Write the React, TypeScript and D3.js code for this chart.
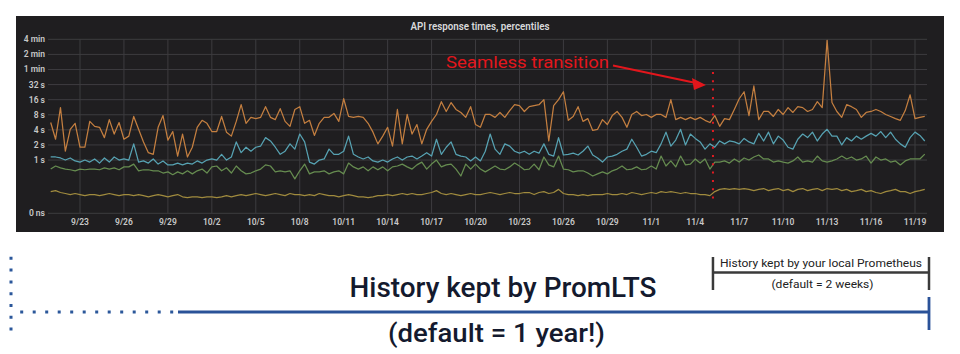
import * as d3 from "d3";

// samples every 8 hours, starting 9/21 00:00 (values in seconds)
const START = Date.UTC(2017, 8, 21);
const STEP_MS = 8 * 3600 * 1000;

const p99 = [
  5.6, 2.6, 11.1, 1.5, 4.1, 5.4, 1.8, 1.8, 5.9, 4.7,
  4.5, 2.8, 6.4, 3.3, 5.6, 2.6, 3.0, 7.4, 4.1, 2.3,
  1.4, 1.3, 4.5, 7.7, 2.5, 3.7, 1.2, 3.3, 1.15, 1.8,
  4.5, 6.2, 5.4, 3.7, 3.7, 7.4, 3.6, 3.0, 5.9, 12.7,
  5.4, 7.1, 6.7, 7.1, 11.6, 7.1, 6.4, 10.6, 5.9, 4.7,
  10.2, 11.6, 5.4, 6.2, 3.1, 5.4, 7.1, 7.1, 8.5, 5.9,
  16.7, 7.4, 7.1, 7.4, 7.1, 5.4, 3.6, 2.1, 3.0, 4.5,
  1.9, 10.2, 2.1, 8.1, 3.3, 5.1, 2.1, 4.1, 5.9, 8.1,
  14.6, 9.3, 14.0, 10.2, 8.9, 7.1, 11.6, 5.1, 4.5, 8.1,
  8.1, 7.1, 8.9, 7.1, 9.7, 12.7, 12.2, 9.3, 11.6, 12.2,
  12.7, 16, 2.4, 12.2, 16, 23, 6.2, 7.4, 11.6, 5.9,
  6.7, 3.9, 4.1, 6.4, 5.1, 7.7, 9.3, 7.1, 4.5, 8.1,
  9.3, 7.7, 8.1, 7.1, 8.1, 8.1, 7.1, 16, 6.4, 7.1,
  6.4, 7.1, 6.4, 7.1, 6.2, 5.6, 7.7, 4.7, 6.7, 6.4,
  10.2, 16.7, 23, 7.7, 30, 6.4, 9.3, 9.3, 7.4, 10.2,
  8.1, 11.1, 8.9, 11.6, 11.1, 9.3, 10.2, 14.6, 11.1, 244,
  14.0, 9.3, 7.1, 12.7, 11.6, 10.2, 7.1, 8.9, 9.3, 10.2,
  9.3, 8.1, 7.4, 6.7, 6.2, 9.7, 20, 6.7, 7.1, 7.4,
];

const p95 = [
  1.15, 1.15, 1.1, 1.0, 1.1, 0.96, 0.91, 1.0, 0.91, 1.05,
  0.87, 1.1, 0.91, 1.15, 1.0, 1.05, 1.0, 2.1, 0.91, 0.96,
  0.87, 1.05, 0.83, 0.96, 0.8, 0.8, 0.87, 0.8, 0.87, 0.83,
  0.96, 0.87, 1.0, 1.05, 1.0, 1.3, 1.0, 1.15, 2.3, 1.4,
  1.8, 1.5, 1.8, 1.9, 2.8, 2.4, 1.8, 1.3, 1.5, 2.1,
  1.65, 3.3, 2.3, 0.91, 0.83, 1.0, 1.05, 1.65, 1.3, 1.3,
  1.5, 3.0, 1.3, 1.15, 1.05, 1.15, 0.96, 0.91, 1.0, 0.91,
  1.05, 1.15, 1.0, 1.15, 1.2, 1.05, 1.2, 1.4, 1.2, 2.6,
  1.3, 1.8, 2.3, 1.3, 1.2, 1.15, 0.96, 1.15, 0.96, 1.5,
  3.3, 1.65, 1.3, 2.1, 1.9, 1.5, 1.37, 1.5, 1.3, 1.5,
  1.37, 2.1, 1.3, 1.2, 2.8, 1.26, 1.3, 1.37, 1.26, 1.5,
  1.9, 1.26, 1.1, 0.91, 1.15, 1.2, 1.3, 1.5, 1.65, 2.6,
  1.8, 1.2, 1.3, 1.5, 1.4, 2.1, 3.6, 1.9, 2.5, 4.1,
  2.0, 3.3, 2.7, 2.3, 1.65, 2.1, 1.8, 2.4, 2.1, 2.4,
  2.3, 2.1, 2.7, 2.3, 2.1, 3.4, 2.4, 3.6, 2.1, 3.0,
  2.5, 1.8, 1.65, 2.6, 3.3, 2.8, 3.6, 2.4, 3.3, 4.1,
  3.0, 3.0, 2.0, 2.8, 2.4, 3.0, 2.6, 3.0, 3.4, 3.0,
  3.7, 2.8, 3.6, 2.6, 2.1, 1.8, 2.8, 3.6, 3.1, 2.4,
];

const p90 = [
  0.66, 0.76, 0.7, 0.66, 0.64, 0.61, 0.66, 0.64, 0.66, 0.66,
  0.64, 0.7, 0.66, 0.7, 0.64, 0.73, 0.73, 0.83, 0.61, 0.64,
  0.64, 0.61, 0.61, 0.55, 0.58, 0.51, 0.58, 0.53, 0.61, 0.53,
  0.61, 0.66, 0.55, 0.73, 0.76, 0.61, 0.7, 0.55, 0.76, 0.61,
  0.53, 0.55, 0.61, 0.66, 0.8, 0.76, 0.58, 0.61, 0.58, 0.61,
  0.42, 0.61, 0.83, 0.53, 0.58, 0.58, 0.61, 0.53, 0.58, 0.61,
  0.53, 0.87, 0.73, 0.66, 0.73, 0.61, 0.73, 0.64, 0.73, 0.61,
  0.73, 0.76, 0.83, 0.73, 0.66, 0.8, 0.91, 0.66, 0.83, 1.0,
  0.73, 0.8, 0.83, 0.66, 0.48, 0.83, 0.66, 0.83, 0.66, 0.58,
  0.66, 0.76, 0.66, 0.64, 0.73, 0.87, 0.76, 0.64, 0.66, 0.83,
  0.64, 1.15, 0.8, 0.73, 1.2, 0.66, 0.64, 0.58, 0.61, 0.61,
  0.55, 0.48, 0.53, 0.58, 0.53, 0.61, 0.66, 0.76, 0.64, 0.66,
  0.73, 0.64, 0.66, 0.76, 0.66, 1.2, 0.76, 0.96, 0.73, 1.2,
  0.8, 0.83, 1.05, 0.87, 1.05, 0.66, 0.91, 0.91, 0.96, 0.87,
  1.05, 0.91, 1.1, 1.0, 1.15, 1.26, 1.05, 1.05, 0.91, 0.96,
  0.91, 0.87, 0.96, 1.15, 0.91, 0.96, 0.91, 1.2, 0.96, 0.91,
  0.96, 1.05, 1.2, 1.05, 1.15, 1.0, 1.05, 1.2, 0.87, 1.15,
  1.0, 1.05, 0.91, 0.96, 0.8, 0.96, 1.05, 1.05, 1.05, 1.31,
];

const p50 = [
  0.235, 0.245, 0.225, 0.215, 0.205, 0.215, 0.205, 0.195, 0.205, 0.205,
  0.195, 0.205, 0.215, 0.205, 0.195, 0.205, 0.205, 0.195, 0.205, 0.195,
  0.185, 0.195, 0.205, 0.195, 0.185, 0.195, 0.205, 0.185, 0.178, 0.185,
  0.185, 0.178, 0.185, 0.185, 0.178, 0.185, 0.195, 0.185, 0.195, 0.205,
  0.195, 0.205, 0.215, 0.205, 0.195, 0.205, 0.215, 0.205, 0.195, 0.215,
  0.205, 0.205, 0.195, 0.205, 0.195, 0.215, 0.205, 0.195, 0.195, 0.185,
  0.195, 0.205, 0.195, 0.185, 0.185, 0.178, 0.185, 0.195, 0.195, 0.205,
  0.195, 0.205, 0.215, 0.205, 0.215, 0.205, 0.205, 0.215, 0.225, 0.245,
  0.215, 0.205, 0.215, 0.205, 0.195, 0.205, 0.215, 0.205, 0.205, 0.215,
  0.225, 0.215, 0.205, 0.215, 0.225, 0.215, 0.215, 0.225, 0.225, 0.205,
  0.225, 0.235, 0.215, 0.225, 0.26, 0.215, 0.205, 0.205, 0.195, 0.205,
  0.195, 0.205, 0.205, 0.205, 0.215, 0.205, 0.205, 0.215, 0.205, 0.225,
  0.215, 0.205, 0.215, 0.225, 0.215, 0.235, 0.225, 0.235, 0.225, 0.215,
  0.225, 0.215, 0.215, 0.205, 0.205, 0.195, 0.235, 0.26, 0.27, 0.26,
  0.27, 0.26, 0.27, 0.26, 0.245, 0.26, 0.27, 0.245, 0.26, 0.27,
  0.245, 0.26, 0.235, 0.26, 0.27, 0.245, 0.26, 0.27, 0.245, 0.27,
  0.26, 0.27, 0.245, 0.26, 0.235, 0.245, 0.26, 0.235, 0.245, 0.225,
  0.215, 0.235, 0.245, 0.26, 0.235, 0.235, 0.215, 0.235, 0.245, 0.26,
];

const series = [
  { name: "p50", values: p50, color: "#a08b3e" },
  { name: "p90", values: p90, color: "#668c50" },
  { name: "p95", values: p95, color: "#57a2b2" },
  { name: "p99", values: p99, color: "#c47f40" },
];

const yTickValues = [256, 128, 64, 32, 16, 8, 4, 2, 1];
const yTickLabels = ["4 min", "2 min", "1 min", "32 s", "16 s", "8 s", "4 s", "2 s", "1 s"];
const yFloor = 0.0866; // shown as "0 ns"

const xTickLabels = [
  "9/23", "9/26", "9/29", "10/2", "10/5", "10/8", "10/11", "10/14", "10/17", "10/20",
  "10/23", "10/26", "10/29", "11/1", "11/4", "11/7", "11/10", "11/13", "11/16", "11/19",
];

const transitionAt = Date.UTC(2017, 10, 5, 5);

const W = 960;
const H = 354;
const panel = { left: 16, top: 16, right: 944, bottom: 232 };
const plot = { left: 48, right: 927, top: 39.3, bottom: 213.3 };

const toDate = (label: string) => {
  const [m, d] = label.split("/").map(Number);
  return new Date(Date.UTC(2017, m - 1, d));
};

export default function App() {
  const x = d3
    .scaleUtc()
    .domain([toDate("9/23"), toDate("11/19")])
    .range([80, 915]);
  const y = d3.scaleLog().base(2).domain([yFloor, 256]).range([plot.bottom, plot.top]);

  const line = d3
    .line<number>()
    .x((_, i) => x(new Date(START + i * STEP_MS)))
    .y((d) => y(d));

  const xT = x(new Date(transitionAt));
  const font = "Roboto, 'Open Sans', sans-serif";

  return (
    <svg
      width={W}
      height={H}
      style={{ position: "absolute", left: 0, top: 0, background: "#fff" }}
      fontFamily={font}
    >
      <rect
        x={panel.left}
        y={panel.top}
        width={panel.right - panel.left}
        height={panel.bottom - panel.top}
        fill="#1f1e20"
      />
      <text
        x={480}
        y={30}
        textAnchor="middle"
        fontSize={10.5}
        fontWeight={600}
        fill="#d8d9da"
        textLength={139}
        lengthAdjust="spacingAndGlyphs"
      >
        API response times, percentiles
      </text>

      {/* grid */}
      {yTickValues.map((v) => (
        <line key={"h" + v} x1={plot.left} x2={plot.right} y1={y(v)} y2={y(v)} stroke="#3d3c3f" />
      ))}
      <line x1={plot.left} x2={plot.right} y1={y(yFloor)} y2={y(yFloor)} stroke="#3d3c3f" />
      {xTickLabels.map((l) => (
        <line
          key={"v" + l}
          x1={x(toDate(l))}
          x2={x(toDate(l))}
          y1={plot.top}
          y2={plot.bottom}
          stroke="#3d3c3f"
        />
      ))}

      {/* axis labels */}
      <g fontSize={8.5} fontWeight={600} fill="#c8c8c8" textAnchor="end">
        {yTickValues.map((v, i) => (
          <text key={"yl" + v} x={45} y={y(v) + 3}>
            {yTickLabels[i]}
          </text>
        ))}
        <text x={45} y={y(yFloor) + 3}>
          0 ns
        </text>
      </g>
      <g fontSize={8.5} fontWeight={600} fill="#c8c8c8" textAnchor="middle">
        {xTickLabels.map((l) => (
          <text key={"xl" + l} x={x(toDate(l))} y={225}>
            {l}
          </text>
        ))}
      </g>

      {/* series */}
      {series.map((s) => (
        <path
          key={s.name}
          d={line(s.values) ?? ""}
          fill="none"
          stroke={s.color}
          strokeWidth={1.25}
          strokeLinejoin="round"
        />
      ))}

      {/* annotation */}
      <line
        x1={xT}
        x2={xT}
        y1={72}
        y2={201}
        stroke="#e01b22"
        strokeWidth={2}
        strokeDasharray="2 6.3"
      />
      <text
        x={446}
        y={68}
        fontSize={17}
        fill="#e3161c"
        textLength={163}
        lengthAdjust="spacingAndGlyphs"
      >
        Seamless transition
      </text>
      <line x1={613} y1={65.5} x2={696} y2={83} stroke="#e3161c" strokeWidth={2} />
      <path d={`M${xT - 7},85 L${xT - 21},78 L${xT - 19},90 Z`} fill="#e3161c" />

      {/* local retention bracket */}
      <g stroke="#3a3a3a" strokeWidth={2.5}>
        <line x1={xT} x2={xT} y1={257} y2={290} />
        <line x1={929} x2={929} y1={257} y2={290} />
        <line x1={xT} x2={929} y1={272.5} y2={272.5} />
      </g>
      <text
        x={821}
        y={266.5}
        textAnchor="middle"
        fontSize={11.5}
        fill="#222"
        textLength={202}
        lengthAdjust="spacingAndGlyphs"
      >
        History kept by your local Prometheus
      </text>
      <text
        x={822.5}
        y={287.5}
        textAnchor="middle"
        fontSize={11}
        fill="#222"
        textLength={102}
        lengthAdjust="spacingAndGlyphs"
      >
        (default = 2 weeks)
      </text>

      {/* long-term retention line */}
      <line x1={11} x2={11} y1={256.8} y2={333} stroke="#2b579a" strokeWidth={3} strokeDasharray="3 8.8" />
      <line x1={20.2} x2={178} y1={312} y2={312} stroke="#2b579a" strokeWidth={3} strokeDasharray="3 9.5" />
      <line x1={178} x2={929} y1={312} y2={312} stroke="#2a5298" strokeWidth={2.8} />
      <line x1={929} x2={929} y1={297} y2={330} stroke="#2a5298" strokeWidth={2.8} />

      <text
        x={503}
        y={297}
        textAnchor="middle"
        fontSize={27}
        fontWeight={500}
        fill="#141a2e"
        textLength={307}
        lengthAdjust="spacingAndGlyphs"
      >
        History kept by PromLTS
      </text>
      <text
        x={496.5}
        y={342}
        textAnchor="middle"
        fontSize={26}
        fontWeight={500}
        fill="#141a2e"
        textLength={217}
        lengthAdjust="spacingAndGlyphs"
      >
        (default = 1 year!)
      </text>
    </svg>
  );
}
